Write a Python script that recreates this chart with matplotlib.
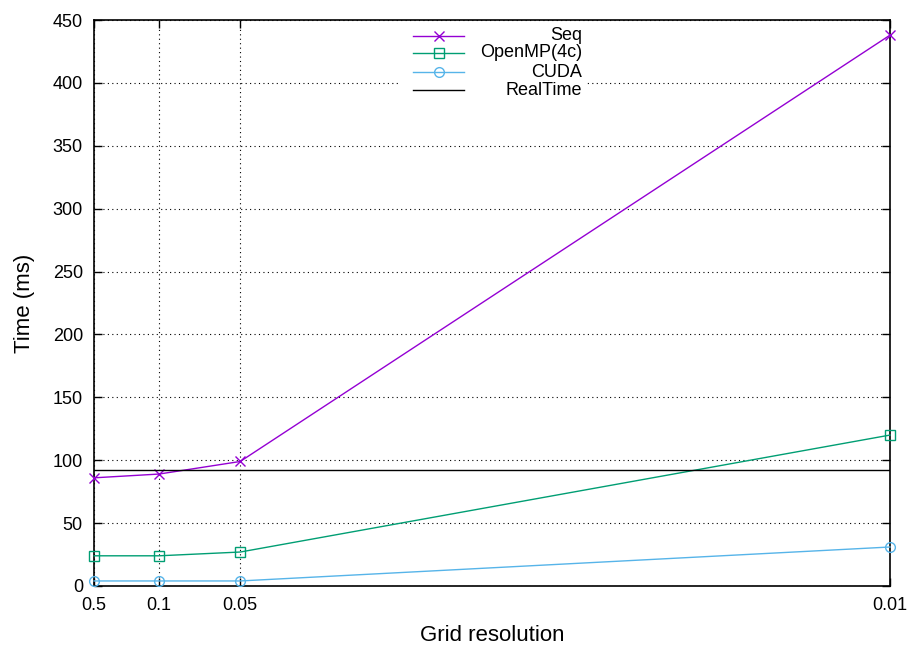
import matplotlib
matplotlib.use("Agg")
import matplotlib.pyplot as plt
from matplotlib.patches import Rectangle

plt.rcParams['font.family'] = ['Liberation Sans', 'DejaVu Sans']

# grid resolution (x axis plotted as 1/resolution)
resolution = [0.5, 0.1, 0.05, 0.01]
tick_labels = ['0.5', '0.1', '0.05', '0.01']
seq_ms = [86, 89, 99, 438]
omp_ms = [24, 24, 27, 120]
cuda_ms = [4, 4, 4, 31]
realtime_ms = 92

inv_res = [1.0 / r for r in resolution]

fig = plt.figure(figsize=(9.12, 6.48), dpi=100)
ax = fig.add_axes([0.1031, 0.0957, 0.8728, 0.8734])

series = [
    ('Seq', seq_ms, '#9400d3', 'x', 'none'),
    ('OpenMP(4c)', omp_ms, '#009e73', 's', 'none'),
    ('CUDA', cuda_ms, '#56b4e9', 'o', 'none'),
]
for name, vals, col, mk, fc in series:
    ax.plot(inv_res, vals, color=col, lw=1.0, marker=mk, ms=7,
            mfc=fc, mec=col, mew=1.0, zorder=3, clip_on=False)
ax.axhline(realtime_ms, color='black', lw=1.0, zorder=3)

ax.set_xlim(inv_res[0], inv_res[-1])
ax.set_ylim(0, 450)
ax.set_xticks(inv_res)
ax.set_xticklabels(tick_labels)
ax.set_yticks(range(0, 451, 50))
ax.tick_params(direction='in', top=True, right=True, length=6, width=1,
               labelsize=13, pad=8)
for s in ax.spines.values():
    s.set_linewidth(1.2)
ax.grid(True, color='black', lw=0.8, linestyle=(0, (1, 3)), zorder=1)

ax.set_xlabel('Grid resolution', fontsize=16, labelpad=8)
ax.set_ylabel('Time (ms)', fontsize=16, labelpad=13)

# gnuplot-style key: samples left, text right-aligned
ax.add_patch(Rectangle((0.382, 0.86), 0.236, 0.135, transform=ax.transAxes,
                       facecolor='white', edgecolor='none', zorder=2))
key_rows = [0.972, 0.942, 0.908, 0.876]
key_items = series + [('RealTime', None, 'black', None, 'none')]
for (name, _, col, mk, fc), yk in zip(key_items, key_rows):
    ax.plot([0.401, 0.465], [yk, yk], transform=ax.transAxes, color=col,
            lw=1.0, zorder=4, clip_on=False)
    if mk:
        ax.plot([0.433], [yk], transform=ax.transAxes, color=col, marker=mk,
                ms=7, mfc=fc, mec=col, mew=1.0, zorder=4, clip_on=False)
    ax.text(0.613, yk, name, transform=ax.transAxes, ha='right', va='center',
            fontsize=13, zorder=4)

fig.savefig('out.png', dpi=100)
